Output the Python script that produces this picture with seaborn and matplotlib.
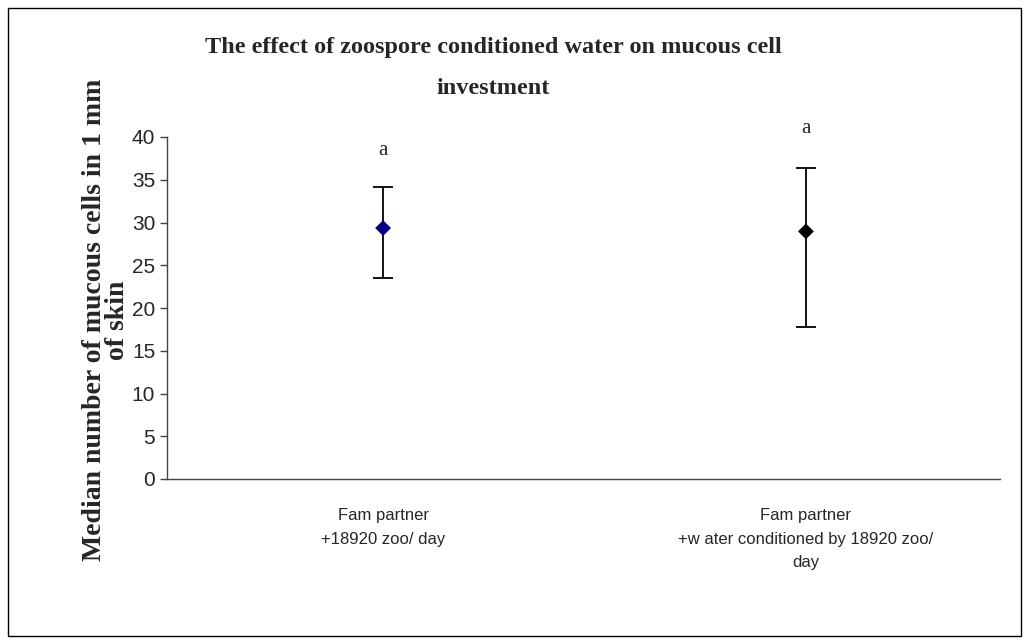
import numpy as np
import pandas as pd
import seaborn as sns
import matplotlib.pyplot as plt
from matplotlib.patches import Rectangle

# values
groups = ['Fam partner\n+18920 zoo/ day',
          'Fam partner\n+w ater conditioned by 18920 zoo/\nday']
medians = [29.35, 28.96]
lower = [23.56, 17.8]
upper = [34.17, 36.33]
letters = ['a', 'a']
letter_y = [38.4, 41.0]
marker_colors = ['#000080', '#000000']

df = pd.DataFrame({'group': groups, 'median': medians, 'low': lower, 'high': upper})

sns.set_style('white')
plt.rcParams['font.family'] = ['Liberation Sans', 'DejaVu Sans']

fig = plt.figure(figsize=(10.29, 6.44), dpi=100)
ax = fig.add_axes([167 / 1029, 1 - 479 / 644, (1000 - 167) / 1029, (479 - 137) / 644])

# error bars (range around the median)
x_pos = np.arange(len(groups))
ax.errorbar(x_pos, df['median'],
            yerr=[df['median'] - df['low'], df['high'] - df['median']],
            fmt='none', ecolor='black', elinewidth=1.3, capsize=7, capthick=1.3, zorder=2)

sns.scatterplot(data=df, x='group', y='median', hue='group', palette=marker_colors,
                marker='D', s=65, edgecolor=None, linewidth=0, legend=False, ax=ax, zorder=3)

for xi, lab, ly in zip(x_pos, letters, letter_y):
    ax.text(xi, ly, lab, ha='center', va='center', fontsize=15,
            family='Liberation Serif', clip_on=False)

ax.set_xlim(-0.511, 1.459)
ax.set_ylim(0, 40)
ax.set_yticks(np.arange(0, 41, 5))
ax.set_xticks(x_pos)
ax.set_xticklabels(groups, fontsize=12, linespacing=1.7)
ax.tick_params(axis='y', labelsize=15, length=5, width=1, direction='out', left=True, color='#444444')
ax.tick_params(axis='x', length=0, pad=21)
ax.set_xlabel('')
ax.set_ylabel('Median number of mucous cells in 1 mm\nof skin', fontsize=20, fontweight='bold',
              family='Liberation Serif', linespacing=0.85)
ax.yaxis.set_label_coords(-0.045, 0.465)

sns.despine(ax=ax, top=True, right=True)
ax.spines['left'].set_color('#444444')
ax.spines['bottom'].set_color('#444444')
ax.spines['left'].set_linewidth(1)
ax.spines['bottom'].set_linewidth(1)

fig.text(493 / 1029, 1 - 47 / 644, 'The effect of zoospore conditioned water on mucous cell',
         ha='center', va='center', fontsize=17.5, fontweight='bold', family='Liberation Serif')
fig.text(493 / 1029, 1 - 88 / 644, 'investment',
         ha='center', va='center', fontsize=17.5, fontweight='bold', family='Liberation Serif')

# outer frame of the chart area
fig.patches.append(Rectangle((8 / 1029, 8 / 644), 1013 / 1029, 628 / 644, transform=fig.transFigure,
                             fill=False, edgecolor='black', linewidth=1))

fig.savefig('out.png', dpi=100, facecolor='white')
